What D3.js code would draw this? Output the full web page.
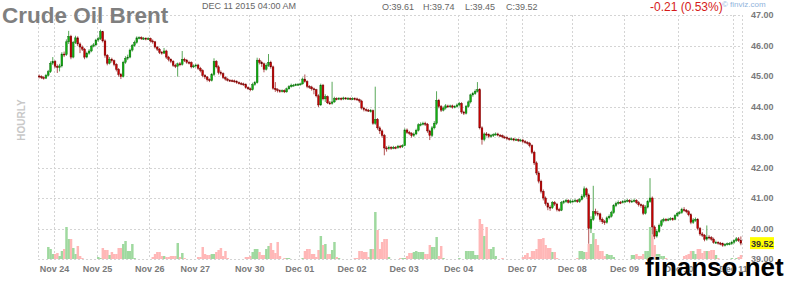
<!DOCTYPE html>
<html>
<head>
<meta charset="utf-8">
<script src="https://cdn.jsdelivr.net/npm/d3@7"></script>
<style>
  body { margin: 0; background: #fff; }
  svg { display: block; font-family: Arial, "Liberation Sans", sans-serif; }
</style>
</head>
<body>
<div id="chart"></div>
<script>
// day boundaries (candle index where each session starts) and their labels
var dayStart  = [0, 7, 26, 49, 69, 93, 115, 138, 161, 185, 206, 213, 235, 258, 282, 306];
var dayLabels = ["", "Nov 24", "Nov 25", "Nov 26", "Nov 27", "Nov 30", "Dec 01", "Dec 02",
                 "Dec 03", "Dec 04", "", "Dec 07", "Dec 08", "Dec 09", "Dec 10", "Dec 11"];
var priceTicks = [39, 40, 41, 42, 43, 44, 45, 46, 47];

// hourly candles, one line per session
var open = [
  45.00, 44.98, 44.95, 44.93, 45.02, 45.14, 45.42,
  45.48, 45.32, 45.28, 45.33, 45.72, 45.70, 46.12, 46.30, 45.62, 46.10, 46.25, 46.05, 45.95, 45.88, 45.62, 45.75, 45.82, 45.98, 46.02,
  46.18, 46.22, 46.45, 46.15, 45.68, 45.42, 45.55, 45.50, 45.38, 45.22, 45.05, 44.98, 45.45, 45.58, 45.62, 45.85, 46.00, 46.10, 46.25, 46.26, 46.22, 46.24, 46.21,
  46.23, 46.15, 46.12, 45.95, 45.88, 45.78, 45.75, 45.82, 45.62, 45.55, 45.48, 45.35, 45.32, 45.40, 45.38, 45.55, 45.52, 45.45, 45.44, 45.30,
  45.33, 45.36, 45.25, 45.18, 45.02, 44.97, 44.88, 44.85, 45.05, 45.48, 45.30, 45.12, 45.08, 44.95, 44.90, 44.86, 44.85, 44.84, 44.82, 44.78, 44.76, 44.74, 44.72, 44.62,
  44.58, 44.55, 44.72, 44.78, 45.52, 45.45, 45.40, 45.22, 45.35, 45.45, 45.30, 44.60, 44.55, 44.52, 44.50, 44.52, 44.48, 44.58, 44.65, 44.70, 44.70, 44.72,
  44.73, 44.74, 44.90, 44.82, 44.66, 44.64, 44.58, 44.55, 44.35, 44.05, 44.70, 44.25, 44.32, 44.12, 44.10, 44.15, 44.26, 44.25, 44.27, 44.25, 44.28, 44.26, 44.27,
  44.25, 44.26, 44.25, 44.22, 44.18, 43.95, 43.90, 43.88, 43.86, 43.86, 43.45, 43.58, 43.30, 43.20, 43.05, 42.64, 42.62, 42.66, 42.64, 42.66, 42.65, 42.70, 42.68,
  42.72, 43.23, 43.15, 43.12, 43.05, 43.10, 43.22, 43.40, 43.42, 43.45, 43.42, 43.20, 43.05, 43.30, 43.45, 44.20, 44.00, 43.88, 43.95, 44.02, 44.00, 44.02, 43.98, 44.00,
  44.05, 44.10, 43.82, 43.78, 44.00, 44.15, 44.38, 44.42, 44.50, 44.55, 43.30, 42.92, 43.10, 43.08, 43.02, 43.05, 43.08, 43.10, 43.06, 43.04, 43.00,
  42.98, 42.95, 42.92, 42.94, 42.90, 42.92, 42.88,
  42.90, 42.85, 42.82, 42.80, 42.72, 42.50, 42.15, 41.82, 41.55, 41.22, 41.00, 40.82, 40.70, 40.68, 40.85, 40.80, 40.62, 40.60, 40.85, 40.88, 40.92, 40.86,
  40.90, 40.90, 40.92, 40.88, 40.95, 41.05, 41.30, 41.10, 40.00, 40.30, 40.55, 40.50, 40.48, 40.30, 40.22, 40.20, 40.35, 40.40, 40.52, 40.75, 40.82, 40.86, 40.85,
  40.88, 40.90, 40.92, 40.88, 40.90, 40.92, 40.85, 40.78, 40.75, 40.50, 40.70, 40.88, 41.00, 40.05, 39.75, 39.90, 40.10, 40.25, 40.30, 40.28, 40.30, 40.32, 40.30, 40.42,
  40.50, 40.52, 40.62, 40.60, 40.55, 40.45, 40.20, 40.28, 40.30, 40.00, 39.82, 39.78, 39.65, 39.72, 39.70, 39.65, 39.55, 39.55, 39.52, 39.50, 39.45, 39.48, 39.50, 39.50,
  39.55, 39.60, 39.66, 39.61
];
var high = [
  45.05, 45.02, 44.99, 45.07, 45.20, 45.48, 45.62,
  45.52, 45.38, 45.40, 45.78, 45.80, 46.20, 46.48, 46.35, 46.15, 46.32, 46.30, 46.10, 46.00, 45.92, 45.80, 45.88, 46.02, 46.08, 46.22,
  46.28, 46.52, 46.48, 46.20, 45.72, 45.62, 45.60, 45.54, 45.42, 45.26, 45.10, 45.50, 45.65, 45.70, 45.90, 46.05, 46.16, 46.30, 46.30, 46.30, 46.28, 46.27, 46.27,
  46.26, 46.20, 46.15, 45.98, 45.92, 45.82, 45.92, 45.86, 45.66, 45.58, 45.52, 45.40, 45.44, 45.46, 45.82, 45.60, 45.56, 45.50, 45.48, 45.38,
  45.40, 45.40, 45.30, 45.22, 45.06, 45.00, 44.92, 45.10, 45.58, 45.52, 45.35, 45.18, 45.12, 44.99, 44.94, 44.90, 44.89, 44.88, 44.86, 44.82, 44.80, 44.78, 44.76, 44.66,
  44.62, 44.78, 44.84, 45.60, 45.58, 45.50, 45.44, 45.42, 45.72, 45.50, 45.34, 44.80, 44.60, 44.56, 44.56, 44.56, 44.62, 44.70, 44.75, 44.74, 44.76, 44.77,
  44.78, 44.95, 45.05, 44.86, 44.70, 44.68, 44.62, 44.58, 44.40, 44.75, 44.74, 44.40, 44.36, 44.18, 44.81, 44.32, 44.30, 44.31, 44.30, 44.32, 44.31, 44.31, 44.30,
  44.30, 44.30, 44.29, 44.26, 44.22, 43.99, 43.94, 43.92, 43.92, 43.90, 44.65, 43.62, 43.35, 43.25, 43.10, 42.70, 42.72, 42.70, 42.71, 42.70, 42.74, 42.74, 42.76,
  43.28, 43.28, 43.20, 43.16, 43.15, 43.27, 43.45, 43.48, 43.50, 43.50, 43.46, 43.24, 43.36, 43.52, 44.50, 44.25, 44.05, 44.00, 44.08, 44.06, 44.06, 44.06, 44.04, 44.10,
  44.15, 44.14, 43.86, 44.05, 44.20, 44.42, 44.48, 44.56, 44.80, 44.60, 43.35, 43.15, 43.16, 43.12, 43.10, 43.12, 43.15, 43.14, 43.10, 43.08, 43.04,
  43.02, 42.98, 42.98, 42.97, 42.96, 42.95, 42.94,
  42.94, 42.90, 42.86, 42.84, 42.76, 42.55, 42.20, 41.88, 41.60, 41.28, 41.05, 40.86, 40.76, 40.90, 40.90, 40.84, 40.68, 40.90, 40.93, 40.97, 40.96, 40.95,
  40.95, 40.97, 40.96, 41.00, 41.12, 41.38, 41.34, 41.15, 40.40, 41.40, 40.65, 40.58, 40.52, 40.36, 40.28, 40.40, 40.46, 40.58, 40.80, 40.88, 40.92, 40.90, 40.93,
  40.95, 40.97, 40.96, 40.95, 40.98, 40.96, 40.90, 40.82, 40.80, 40.76, 40.94, 41.65, 41.05, 40.10, 39.98, 40.16, 40.30, 40.35, 40.34, 40.35, 40.37, 40.36, 40.47, 40.55,
  40.57, 40.68, 40.70, 40.64, 40.60, 40.50, 40.34, 40.36, 40.34, 40.05, 39.88, 39.82, 40.10, 39.78, 39.75, 39.70, 39.60, 39.58, 39.56, 39.54, 39.52, 39.54, 39.55, 39.60,
  39.64, 39.72, 39.72, 39.74
];
var low = [
  44.92, 44.90, 44.88, 44.90, 44.98, 45.10, 45.36,
  45.26, 45.10, 45.15, 45.28, 45.62, 45.66, 46.05, 45.55, 45.58, 46.05, 45.98, 45.75, 45.82, 45.55, 45.58, 45.70, 45.78, 45.94, 45.98,
  46.12, 46.18, 46.10, 45.60, 45.35, 45.38, 45.44, 45.32, 45.15, 44.98, 44.90, 44.95, 45.40, 45.52, 45.58, 45.80, 45.96, 46.06, 46.20, 46.18, 46.18, 46.17, 46.18,
  46.10, 46.06, 45.90, 45.82, 45.72, 45.70, 45.72, 45.56, 45.48, 45.42, 45.30, 45.26, 44.98, 45.32, 45.34, 45.46, 45.40, 45.38, 45.25, 45.26,
  45.28, 45.20, 45.12, 44.96, 44.90, 44.82, 44.80, 44.82, 45.00, 45.25, 45.05, 45.02, 44.90, 44.85, 44.82, 44.81, 44.80, 44.78, 44.74, 44.72, 44.70, 44.68, 44.58, 44.54,
  44.50, 44.52, 44.68, 44.75, 45.38, 45.30, 45.12, 45.18, 45.30, 45.24, 44.55, 44.48, 44.46, 44.45, 44.46, 44.44, 44.45, 44.55, 44.62, 44.66, 44.67, 44.68,
  44.69, 44.72, 44.78, 44.60, 44.58, 44.52, 44.40, 44.30, 43.98, 44.02, 44.20, 44.15, 44.08, 44.05, 44.06, 44.12, 44.20, 44.21, 44.20, 44.21, 44.22, 44.22, 44.21,
  44.21, 44.20, 44.18, 44.12, 43.90, 43.84, 43.83, 43.82, 43.80, 43.40, 43.40, 43.24, 43.10, 42.98, 42.40, 42.52, 42.58, 42.58, 42.60, 42.60, 42.61, 42.63, 42.64,
  42.70, 43.10, 43.06, 42.98, 43.00, 43.06, 43.18, 43.35, 43.38, 43.36, 43.14, 42.90, 43.00, 43.25, 43.40, 43.94, 43.82, 43.84, 43.90, 43.95, 43.96, 43.93, 43.94, 43.96,
  44.00, 43.76, 43.72, 43.74, 43.96, 44.10, 44.32, 44.38, 44.46, 43.25, 42.75, 42.86, 43.02, 42.96, 42.98, 43.00, 43.04, 43.02, 43.00, 42.96, 42.94,
  42.90, 42.88, 42.89, 42.86, 42.87, 42.84, 42.85,
  42.80, 42.78, 42.75, 42.66, 42.44, 42.08, 41.75, 41.48, 41.15, 40.92, 40.75, 40.60, 40.58, 40.64, 40.74, 40.56, 40.55, 40.57, 40.80, 40.84, 40.82, 40.82,
  40.85, 40.86, 40.84, 40.84, 40.92, 41.00, 41.02, 39.50, 39.85, 40.25, 40.42, 40.40, 40.22, 40.15, 40.12, 40.16, 40.30, 40.36, 40.48, 40.70, 40.78, 40.80, 40.82,
  40.84, 40.86, 40.83, 40.84, 40.86, 40.80, 40.72, 40.68, 40.44, 40.46, 40.66, 40.84, 39.80, 39.65, 39.70, 39.86, 40.05, 40.20, 40.23, 40.24, 40.26, 40.25, 40.27, 40.38,
  40.46, 40.48, 40.55, 40.50, 40.40, 40.14, 40.15, 40.22, 39.94, 39.76, 39.72, 39.58, 39.60, 39.64, 39.60, 39.50, 39.50, 39.47, 39.45, 39.40, 39.41, 39.44, 39.45, 39.46,
  39.50, 39.56, 39.56, 39.45
];
var close = [
  44.98, 44.95, 44.93, 45.02, 45.14, 45.42, 45.48,
  45.32, 45.28, 45.33, 45.72, 45.70, 46.12, 46.30, 45.62, 46.10, 46.25, 46.05, 45.95, 45.88, 45.62, 45.75, 45.82, 45.98, 46.02, 46.18,
  46.22, 46.45, 46.15, 45.68, 45.42, 45.55, 45.50, 45.38, 45.22, 45.05, 44.98, 45.45, 45.58, 45.62, 45.85, 46.00, 46.10, 46.25, 46.26, 46.22, 46.24, 46.21, 46.23,
  46.15, 46.12, 45.95, 45.88, 45.78, 45.75, 45.82, 45.62, 45.55, 45.48, 45.35, 45.32, 45.40, 45.38, 45.55, 45.52, 45.45, 45.44, 45.30, 45.33,
  45.36, 45.25, 45.18, 45.02, 44.97, 44.88, 44.85, 45.05, 45.48, 45.30, 45.12, 45.08, 44.95, 44.90, 44.86, 44.85, 44.84, 44.82, 44.78, 44.76, 44.74, 44.72, 44.62, 44.58,
  44.55, 44.72, 44.78, 45.52, 45.45, 45.40, 45.22, 45.35, 45.45, 45.30, 44.60, 44.55, 44.52, 44.50, 44.52, 44.48, 44.58, 44.65, 44.70, 44.70, 44.72, 44.73,
  44.74, 44.90, 44.82, 44.66, 44.64, 44.58, 44.55, 44.35, 44.05, 44.70, 44.25, 44.32, 44.12, 44.10, 44.15, 44.26, 44.25, 44.27, 44.25, 44.28, 44.26, 44.27, 44.25,
  44.26, 44.25, 44.22, 44.18, 43.95, 43.90, 43.88, 43.86, 43.86, 43.45, 43.58, 43.30, 43.20, 43.05, 42.64, 42.62, 42.66, 42.64, 42.66, 42.65, 42.70, 42.68, 42.72,
  43.23, 43.15, 43.12, 43.05, 43.10, 43.22, 43.40, 43.42, 43.45, 43.42, 43.20, 43.05, 43.30, 43.45, 44.20, 44.00, 43.88, 43.95, 44.02, 44.00, 44.02, 43.98, 44.00, 44.05,
  44.10, 43.82, 43.78, 44.00, 44.15, 44.38, 44.42, 44.50, 44.55, 43.30, 42.92, 43.10, 43.08, 43.02, 43.05, 43.08, 43.10, 43.06, 43.04, 43.00, 42.98,
  42.95, 42.92, 42.94, 42.90, 42.92, 42.88, 42.90,
  42.85, 42.82, 42.80, 42.72, 42.50, 42.15, 41.82, 41.55, 41.22, 41.00, 40.82, 40.70, 40.68, 40.85, 40.80, 40.62, 40.60, 40.85, 40.88, 40.92, 40.86, 40.90,
  40.90, 40.92, 40.88, 40.95, 41.05, 41.30, 41.10, 40.00, 40.30, 40.55, 40.50, 40.48, 40.30, 40.22, 40.20, 40.35, 40.40, 40.52, 40.75, 40.82, 40.86, 40.85, 40.88,
  40.90, 40.92, 40.88, 40.90, 40.92, 40.85, 40.78, 40.75, 40.50, 40.70, 40.88, 41.00, 40.05, 39.75, 39.90, 40.10, 40.25, 40.30, 40.28, 40.30, 40.32, 40.30, 40.42, 40.50,
  40.52, 40.62, 40.60, 40.55, 40.45, 40.20, 40.28, 40.30, 40.00, 39.82, 39.78, 39.65, 39.72, 39.70, 39.65, 39.55, 39.55, 39.52, 39.50, 39.45, 39.48, 39.50, 39.50, 39.55,
  39.60, 39.66, 39.61, 39.52
];
var volume = [
  0, 0, 0, 0, 1200, 1000, 500,
  500, 600, 300, 800, 1000, 3200, 2000, 2000, 1100, 500, 1300, 300, 100, 0, 0, 0, 0, 0, 0,
  200, 100, 1100, 900, 900, 400, 700, 500, 500, 1100, 1100, 1500, 1800, 800, 800, 1500, 100, 0, 0, 0, 0, 0, 0,
  0, 200, 500, 700, 700, 300, 300, 200, 200, 300, 300, 300, 1600, 200, 600, 100, 0, 0, 0, 0,
  0, 200, 200, 1200, 500, 400, 400, 500, 500, 700, 900, 1100, 300, 800, 100, 0, 0, 0, 0, 0, 0, 0, 200, 200,
  300, 700, 1000, 1000, 700, 400, 400, 1000, 1300, 1600, 900, 600, 1700, 300, 0, 100, 100, 100, 0, 0, 0, 0,
  0, 100, 800, 1000, 1000, 500, 500, 200, 900, 2300, 1400, 1500, 500, 500, 900, 1700, 200, 100, 0, 0, 0, 0, 0,
  0, 100, 100, 800, 800, 700, 700, 200, 1000, 1000, 4700, 2900, 1000, 1700, 2000, 2000, 200, 0, 0, 0, 0, 100, 100,
  100, 300, 600, 600, 700, 800, 700, 700, 700, 500, 500, 1400, 1200, 1200, 2200, 300, 1300, 100, 0, 0, 0, 0, 0, 0,
  100, 0, 0, 800, 800, 800, 800, 400, 400, 4000, 3500, 2300, 3200, 1000, 1000, 1200, 300, 0, 0, 100, 0,
  0, 0, 0, 0, 0, 0, 0,
  200, 400, 600, 200, 800, 800, 1000, 2000, 2000, 2100, 1400, 1100, 1100, 700, 700, 100, 0, 0, 0, 0, 0, 0,
  0, 0, 100, 800, 800, 700, 700, 1500, 1500, 2600, 2000, 1400, 800, 800, 300, 500, 400, 400, 200, 0, 0, 0, 0,
  0, 0, 0, 400, 400, 500, 300, 300, 500, 800, 800, 3200, 2400, 1400, 500, 500, 300, 300, 100, 0, 0, 0, 0, 0,
  0, 0, 300, 400, 500, 800, 800, 500, 1000, 1000, 600, 800, 800, 800, 900, 900, 400, 100, 0, 0, 0, 0, 0, 100,
  0, 100, 200, 400
];

var width = 800,
    height = 294;

var x = d3.scaleLinear()
    .domain([0, close.length])
    .range([38, 742]);

var y = d3.scaleLinear()
    .domain([39, 47])
    .range([259, 15]);

var vol = d3.scaleLinear()
    .domain([0, d3.max(volume)])
    .range([0, 47]);

var bw = x(1) - x(0);

var svg = d3.select("#chart")
    .append("svg")
    .attr("width", width)
    .attr("height", height);

// dashed grid
var grid = svg.append("g")
    .attr("stroke", "#d4d4d4")
    .attr("stroke-dasharray", "2,2")
    .attr("shape-rendering", "crispEdges");

grid.selectAll(".h")
    .data(priceTicks)
    .enter().append("line")
    .attr("x1", x(0))
    .attr("x2", x(close.length))
    .attr("y1", function (d) { return Math.round(y(d)) + 0.5; })
    .attr("y2", function (d) { return Math.round(y(d)) + 0.5; });

grid.selectAll(".v")
    .data(dayStart.concat([close.length]))
    .enter().append("line")
    .attr("x1", function (d) { return Math.round(x(d)) + 0.5; })
    .attr("x2", function (d) { return Math.round(x(d)) + 0.5; })
    .attr("y1", y(47))
    .attr("y2", y(39));

var idx = d3.range(close.length);
function up(i) { return close[i] >= open[i]; }

// volume bars
svg.append("g")
    .selectAll("rect")
    .data(idx.filter(function (i) { return volume[i] > 0; }))
    .enter().append("rect")
    .attr("x", function (i) { return x(i); })
    .attr("width", bw + 0.2)
    .attr("y", function (i) { return y(39) - vol(volume[i]); })
    .attr("height", function (i) { return vol(volume[i]); })
    .attr("fill", function (i) { return up(i) ? "#9fd99f" : "#ffb7b7"; });

// candles
var candle = svg.append("g")
    .selectAll("g")
    .data(idx)
    .enter().append("g");

candle.append("line")
    .attr("x1", function (i) { return x(i) + bw / 2; })
    .attr("x2", function (i) { return x(i) + bw / 2; })
    .attr("y1", function (i) { return y(high[i]); })
    .attr("y2", function (i) { return y(low[i]); })
    .attr("stroke", function (i) { return up(i) ? "#5aa85a" : "#b35353"; })
    .attr("stroke-width", 1);

candle.append("rect")
    .attr("x", function (i) { return x(i) + 0.25; })
    .attr("width", bw - 0.5)
    .attr("y", function (i) { return y(Math.max(open[i], close[i])); })
    .attr("height", function (i) { return Math.max(1, Math.abs(y(open[i]) - y(close[i]))); })
    .attr("fill", function (i) { return up(i) ? "#10b010" : "#c80000"; })
    .attr("stroke", function (i) { return up(i) ? "#0a600a" : "#600000"; })
    .attr("stroke-width", 0.4);

// price axis
var yAxis = svg.append("g")
    .attr("transform", "translate(749,0)")
    .call(d3.axisRight(y).tickValues(priceTicks).tickFormat(d3.format(".2f")).tickSize(0));
yAxis.select(".domain").remove();
yAxis.selectAll("text")
    .attr("x", 2)
    .attr("font-size", 9)
    .attr("font-weight", "bold")
    .attr("font-family", "Arial, 'Liberation Sans', sans-serif")
    .attr("fill", "#7a7a7a");

// last price box
var last = close[close.length - 1];
svg.append("rect")
    .attr("x", 750)
    .attr("y", y(last) - 6)
    .attr("width", 24)
    .attr("height", 12)
    .attr("fill", "#ffff00");
svg.append("text")
    .attr("x", 751)
    .attr("y", y(last) + 3.5)
    .attr("font-size", 9)
    .attr("font-weight", "bold")
    .attr("fill", "#333")
    .text(d3.format(".2f")(last));

// date axis
var xAxis = svg.append("g")
    .attr("transform", "translate(0," + (y(39) + 4) + ")")
    .call(d3.axisBottom(x)
        .tickValues(dayStart.filter(function (d, k) { return dayLabels[k] !== ""; }))
        .tickFormat(function (d) { return dayLabels[dayStart.indexOf(d)]; })
        .tickSize(0));
xAxis.select(".domain").remove();
xAxis.selectAll("text")
    .attr("font-size", 9)
    .attr("font-weight", "bold")
    .attr("font-family", "Arial, 'Liberation Sans', sans-serif")
    .attr("fill", "#7a7a7a");

// header
svg.append("text")
    .attr("x", 2)
    .attr("y", 23)
    .attr("font-size", 22.5)
    .attr("font-weight", "bold")
    .attr("fill", "#7f7f7f")
    .text("Crude Oil Brent");

svg.append("text")
    .attr("x", 202)
    .attr("y", 9)
    .attr("font-size", 9)
    .attr("fill", "#666")
    .text("DEC 11 2015 04:00 AM");

var ohlc = [["O:39.61", 382], ["H:39.74", 423], ["L:39.45", 465], ["C:39.52", 506]];
svg.selectAll(".ohlc")
    .data(ohlc)
    .enter().append("text")
    .attr("x", function (d) { return d[1]; })
    .attr("y", 10)
    .attr("font-size", 9)
    .attr("fill", "#666")
    .text(function (d) { return d[0]; });

svg.append("text")
    .attr("x", 650)
    .attr("y", 11)
    .attr("font-size", 12)
    .attr("fill", "#d51a1a")
    .text("-0.21 (0.53%)");

svg.append("text")
    .attr("x", 722)
    .attr("y", 7)
    .attr("font-size", 8)
    .attr("fill", "#8fb4dc")
    .text("\u00a9 finviz.com");

svg.append("text")
    .attr("transform", "translate(25,120) rotate(-90)")
    .attr("text-anchor", "middle")
    .attr("font-size", 10)
    .attr("font-weight", "bold")
    .attr("fill", "#c8c8c8")
    .text("HOURLY");

// watermark
svg.append("text")
    .attr("x", 645)
    .attr("y", 276)
    .attr("font-size", 26)
    .attr("font-weight", "bold")
    .attr("fill", "#000")
    .attr("stroke", "#fff")
    .attr("stroke-width", 0.6)
    .attr("paint-order", "stroke")
    .text("finanso.net");
</script>
</body>
</html>
